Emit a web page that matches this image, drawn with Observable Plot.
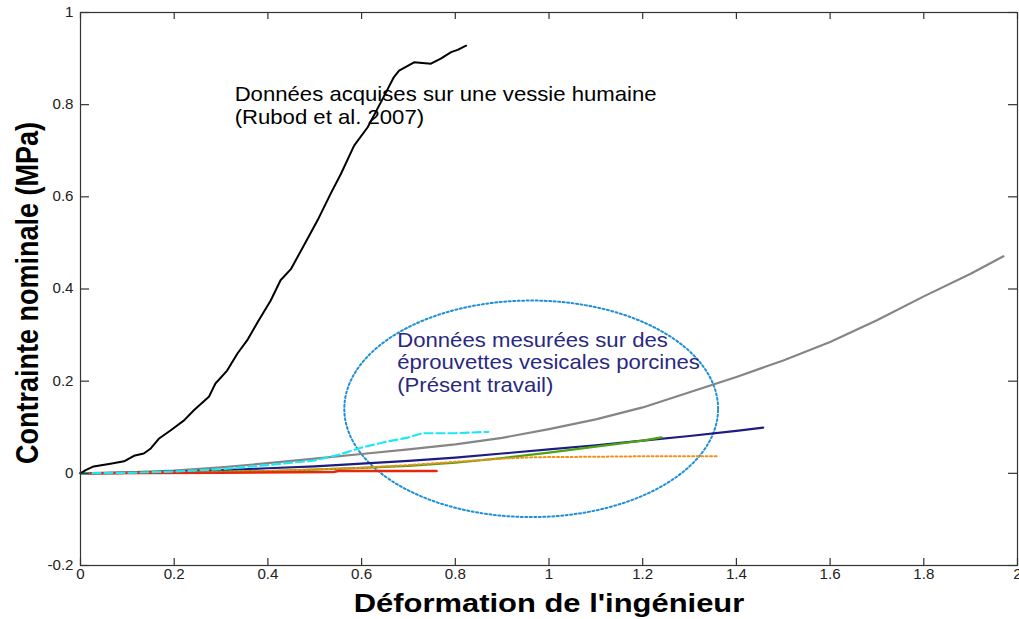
<!DOCTYPE html>
<html><head><meta charset="utf-8">
<script src="https://cdn.jsdelivr.net/npm/d3@7"></script>
<script src="https://cdn.jsdelivr.net/npm/@observablehq/plot@0.6"></script>
<style>body{margin:0;background:#fff;}</style>
</head><body><div id="chart"></div>
<script>
const xTicks = [0, 0.2, 0.4, 0.6, 0.8, 1, 1.2, 1.4, 1.6, 1.8, 2];
const yTicks = [-0.2, 0, 0.2, 0.4, 0.6, 0.8, 1];

const humanX = [0,0.011,0.028,0.064,0.093,0.114,0.135,0.150,0.167,0.192,0.221,0.242,0.274,0.288,0.313,0.335,0.356,0.378,0.406,0.427,0.449,0.477,0.506,0.534,0.556,0.584,0.613,0.641,0.669,0.680,0.712,0.748,0.769,0.791,0.805,0.823];
const humanY = [0,0.007,0.015,0.021,0.026,0.038,0.043,0.054,0.075,0.093,0.115,0.137,0.166,0.195,0.223,0.260,0.289,0.328,0.375,0.419,0.443,0.495,0.549,0.607,0.650,0.711,0.751,0.805,0.860,0.874,0.892,0.889,0.900,0.914,0.919,0.928];

const grayX = [0,0.1,0.2,0.3,0.4,0.5,0.6,0.7,0.8,0.9,1.0,1.1,1.2,1.3,1.4,1.5,1.6,1.7,1.8,1.9,1.97];
const grayY = [0,0.002,0.006,0.013,0.022,0.032,0.042,0.052,0.063,0.077,0.096,0.117,0.143,0.176,0.209,0.245,0.285,0.332,0.384,0.433,0.471];

const navyX = [0,0.1,0.2,0.3,0.4,0.5,0.6,0.7,0.8,0.9,1.0,1.1,1.2,1.3,1.4,1.457];
const navyY = [0,0.001,0.004,0.007,0.011,0.015,0.021,0.027,0.034,0.043,0.052,0.061,0.071,0.081,0.092,0.099];

const greenX = [0,0.2,0.4,0.5,0.6,0.7,0.8,0.9,1.0,1.1,1.2,1.24];
const greenY = [0,0.002,0.005,0.008,0.012,0.016,0.023,0.033,0.045,0.058,0.071,0.078];

const orangeX = [0,0.2,0.4,0.6,0.7,0.8,0.9,0.97,1.1,1.2,1.36];
const orangeY = [0,0.001,0.005,0.012,0.018,0.025,0.032,0.035,0.036,0.037,0.037];

const redX = [0,0.3,0.54,0.55,0.76];
const redY = [0,0.001,0.003,0.005,0.005];

const cyanX = [0,0.1,0.2,0.3,0.4,0.5,0.55,0.6,0.65,0.7,0.73,0.8,0.87];
const cyanY = [0,0.001,0.004,0.009,0.018,0.028,0.040,0.056,0.068,0.078,0.087,0.087,0.090];

const humanLabel = ["Données acquises sur une vessie humaine", "(Rubod et al. 2007)"];
const porcineLabel = ["Données mesurées sur des", "éprouvettes vesicales porcines", "(Présent travail)"];
const xLabel = "Déformation de l'ingénieur";
const yLabel = "Contrainte nominale (MPa)";

// annotation ellipse (centre and radii in data units)
const ellCenter = [0.962, 0.140];
const ellRadius = [0.399, 0.235];

const pts = (xs, ys) => xs.map((x, i) => ({x, y: ys[i]}));
const ellipse = d3.range(0, 121).map(i => {
  const t = i / 120 * 2 * Math.PI;
  return {x: ellCenter[0] + ellRadius[0] * Math.cos(t), y: ellCenter[1] + ellRadius[1] * Math.sin(t)};
});

// inward tick lengths expressed in data units (7px vertical, 9px horizontal)
const tickLenY = 7 / 461;
const tickLenX = 9 / 468.5;

const chart = Plot.plot({
  width: 1019, height: 619,
  marginLeft: 80, marginRight: 2, marginTop: 12, marginBottom: 54,
  x: {domain: [0, 2]},
  y: {domain: [-0.2, 1]},
  style: {fontFamily: "'Liberation Sans', Arial, sans-serif", fontSize: "14px", color: "#222", background: "#fff"},
  marks: [
    Plot.line(ellipse, {x: "x", y: "y", stroke: "#1e90d8", strokeWidth: 2, strokeDasharray: "2,2.5"}),
    Plot.line(pts(grayX, grayY), {x: "x", y: "y", stroke: "#858585", strokeWidth: 2.2}),
    Plot.line(pts(navyX, navyY), {x: "x", y: "y", stroke: "#1c1c82", strokeWidth: 2.2}),
    Plot.line(pts(greenX, greenY), {x: "x", y: "y", stroke: "#4ea312", strokeWidth: 2.2}),
    Plot.line(pts(orangeX, orangeY), {x: "x", y: "y", stroke: "#f0901a", strokeWidth: 2, strokeDasharray: "2,2.5"}),
    Plot.line(pts(redX, redY), {x: "x", y: "y", stroke: "#e8280c", strokeWidth: 2.5}),
    Plot.line(pts(cyanX, cyanY), {x: "x", y: "y", stroke: "#1ee6f2", strokeWidth: 2.2, strokeDasharray: "8,4"}),
    Plot.line(pts(humanX, humanY), {x: "x", y: "y", stroke: "#000", strokeWidth: 2}),
    Plot.frame({stroke: "#333", strokeWidth: 1.2}),
    Plot.ruleX(xTicks, {x: d => d, y1: -0.2, y2: -0.2 + tickLenY, stroke: "#333", strokeWidth: 1.2}),
    Plot.ruleX(xTicks, {x: d => d, y1: 1, y2: 1 - tickLenY, stroke: "#333", strokeWidth: 1.2}),
    Plot.ruleY(yTicks, {y: d => d, x1: 0, x2: tickLenX, stroke: "#333", strokeWidth: 1.2}),
    Plot.ruleY(yTicks, {y: d => d, x1: 2, x2: 2 - tickLenX, stroke: "#333", strokeWidth: 1.2}),
    Plot.axisX({ticks: xTicks, anchor: "bottom", tickSize: 0, tickPadding: 4, tickFormat: d => String(d), label: null, fontSize: 14, fill: "#222"}),
    Plot.axisY({ticks: yTicks, anchor: "left", tickSize: 0, tickPadding: 7, tickFormat: d => String(d), label: null, fontSize: 14, fill: "#222"}),
    Plot.text([humanLabel.join("\n")], {x: 0.329, y: 0.8436, text: d => d, textAnchor: "start", lineAnchor: "top", fontSize: 20.5, lineHeight: 1.12, fill: "#000"}),
    Plot.text([porcineLabel.join("\n")], {x: 0.676, y: 0.309, text: d => d, textAnchor: "start", lineAnchor: "top", fontSize: 20.5, lineHeight: 1.1, fill: "#29297f"}),
    Plot.text([xLabel], {frameAnchor: "bottom", dy: 28.2, lineAnchor: "top", textAnchor: "middle", text: d => d, fontSize: 26, fontWeight: "bold", fill: "#000"}),
    Plot.text([yLabel], {frameAnchor: "left", dx: -52, dy: 4, rotate: -90, textAnchor: "middle", lineAnchor: "middle", text: d => d, fontSize: 27, fontWeight: "bold", fill: "#000"})
  ]
});
document.getElementById("chart").appendChild(chart);

// tick label size, and horizontal stretch of the text as in the reference rendering
chart.querySelectorAll("text").forEach(t => {
  const s = t.textContent;
  let sc = "scale(1.08,1)";
  if (/^-?[\d.]+$/.test(s)) {
    t.style.fontSize = "14px";
    t.setAttribute("font-size", "14");
  }
  if (s.startsWith("Données")) sc = "scale(1.08,1)";
  else if (s === xLabel) sc = "scale(1.19,1)";
  else if (s === yLabel) sc = "scale(1,1.15)";
  const tr = t.getAttribute("transform");
  if (tr) t.setAttribute("transform", tr + " " + sc);
  else {
    const x = +t.getAttribute("x") || 0, y = +t.getAttribute("y") || 0;
    t.setAttribute("transform", `translate(${x},${y}) ${sc} translate(${-x},${-y})`);
  }
});
</script></body></html>
